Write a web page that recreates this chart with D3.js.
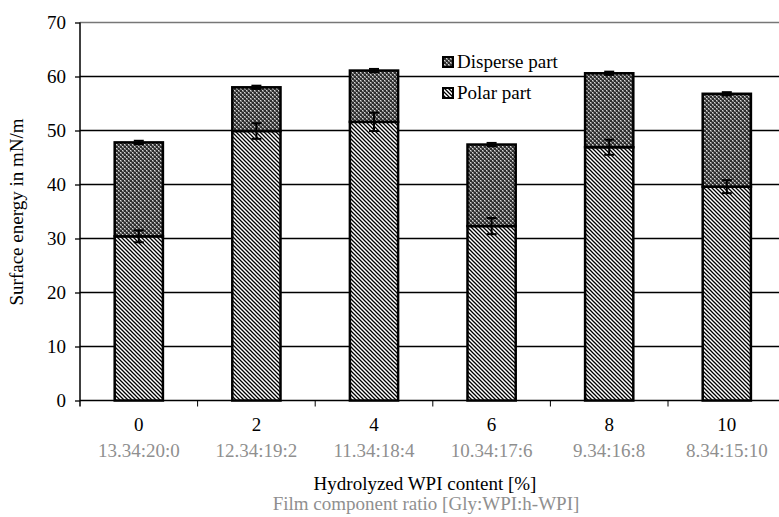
<!DOCTYPE html>
<html><head><meta charset="utf-8">
<script src="https://cdn.jsdelivr.net/npm/d3@7"></script>
<style>body{margin:0;background:#fff}svg{display:block}text{font-family:"Liberation Serif","Times New Roman",serif}</style>
</head><body><svg id="c" width="779" height="517"></svg>
<script>
const categories = ["0","2","4","6","8","10"];
const ratios = ["13.34:20:0","12.34:19:2","11.34:18:4","10.34:17:6","9.34:16:8","8.34:15:10"];
const polar = [30.4, 49.9, 51.6, 32.3, 46.9, 39.6];
const polarErr = [1.1, 1.45, 1.7, 1.5, 1.4, 1.2];
const total = [47.8, 58.0, 61.1, 47.4, 60.6, 56.8];
const totalErr = [0.3, 0.3, 0.3, 0.3, 0.3, 0.3];
const yTicks = [0,10,20,30,40,50,60,70];

(function(){
const svg = d3.select("#c");
const pLeft = 80, pRight = 80 + 6*117.6, pTop = 22.5, pBottom = 400.5;
const x = d3.scaleBand().domain(categories).range([pLeft,pRight]).paddingInner(0.59).paddingOuter(0.295);
const xb = d3.scaleBand().domain(categories).range([pLeft,pRight]);
const y = d3.scaleLinear().domain([0,70]).range([pBottom,pTop]);

const defs = svg.append("defs");
const pp = defs.append("pattern").attr("id","polar").attr("patternUnits","userSpaceOnUse").attr("width",4).attr("height",4);
pp.append("rect").attr("width",4).attr("height",4).attr("fill","#fff");
pp.append("path").attr("d","M-1,-1L5,5M3,-1L5,1M-1,3L1,5").attr("stroke","#000").attr("stroke-width",1.3);
const dp = defs.append("pattern").attr("id","disp").attr("patternUnits","userSpaceOnUse").attr("width",4).attr("height",4);
dp.append("rect").attr("width",4).attr("height",4).attr("fill","#2e2e2e");
dp.append("rect").attr("x",0).attr("y",0).attr("width",1.4).attr("height",1.4).attr("fill","#d8d8d8");
dp.append("rect").attr("x",2).attr("y",2).attr("width",1.4).attr("height",1.4).attr("fill","#d8d8d8");
dp.append("rect").attr("x",1).attr("y",1).attr("width",1).attr("height",1).attr("fill","#888");
dp.append("rect").attr("x",3).attr("y",3).attr("width",1).attr("height",1).attr("fill","#888");

// gridlines
svg.append("g").selectAll("line").data(yTicks.filter(d=>d>0)).join("line")
  .attr("x1",pLeft).attr("x2",779).attr("y1",d=>y(d)).attr("y2",d=>y(d))
  .attr("stroke",d=>d===70?"#777":"#000").attr("stroke-width",1.3);

// y axis
const yAxis = svg.append("g").attr("transform",`translate(${pLeft},0)`)
  .call(d3.axisLeft(y).tickValues(yTicks).tickSize(5).tickPadding(9));
yAxis.select(".domain").attr("stroke","#000").attr("stroke-width",1.5).attr("d",`M0,${pTop}V${pBottom+6}`);
yAxis.selectAll(".tick line").attr("stroke","#000").attr("stroke-width",1.3);
yAxis.selectAll(".tick text").attr("font-size",19).attr("fill","#000").attr("font-family","Liberation Serif");

// x axis baseline and ticks
svg.append("line").attr("x1",pLeft).attr("x2",779).attr("y1",pBottom).attr("y2",pBottom).attr("stroke","#000").attr("stroke-width",1.5);
svg.append("g").selectAll("line").data(categories.slice(1)).join("line")
  .attr("x1",d=>xb(d)).attr("x2",d=>xb(d)).attr("y1",pBottom).attr("y2",pBottom+6).attr("stroke","#000").attr("stroke-width",1);

// bars
const g = svg.append("g");
categories.forEach((c,i)=>{
  g.append("rect").attr("x",x(c)).attr("width",x.bandwidth()).attr("y",y(polar[i])).attr("height",y(0)-y(polar[i]))
    .attr("fill","url(#polar)").attr("stroke","#000").attr("stroke-width",2.5);
  g.append("rect").attr("x",x(c)).attr("width",x.bandwidth()).attr("y",y(total[i])).attr("height",y(polar[i])-y(total[i]))
    .attr("fill","url(#disp)").attr("stroke","#000").attr("stroke-width",2.5);
});
// error bars
function err(cx, v, e){
  const eg = g.append("g").attr("stroke","#000");
  eg.append("line").attr("x1",cx).attr("x2",cx).attr("y1",y(v-e)).attr("y2",y(v+e)).attr("stroke-width",2);
  [v-e,v+e].forEach(t=>eg.append("line").attr("x1",cx-5).attr("x2",cx+5).attr("y1",y(t)).attr("y2",y(t)).attr("stroke-width",2));
}
categories.forEach((c,i)=>{
  const cx = x(c)+x.bandwidth()/2;
  err(cx, polar[i], polarErr[i]);
  err(cx, total[i], totalErr[i]);
});

// category labels
svg.append("g").selectAll("text").data(categories).join("text")
  .attr("x",d=>xb(d)+xb.bandwidth()/2).attr("y",431).attr("text-anchor","middle").attr("font-size",19).attr("fill","#000").text(d=>d);
svg.append("g").selectAll("text").data(ratios).join("text")
  .attr("x",(d,i)=>xb(categories[i])+xb.bandwidth()/2).attr("y",457).attr("text-anchor","middle").attr("font-size",19).attr("fill","#8f8f8f").text(d=>d);

svg.append("text").attr("x",425).attr("y",490).attr("text-anchor","middle").attr("font-size",19).attr("fill","#000").text("Hydrolyzed WPI content [%]");
svg.append("text").attr("x",426).attr("y",510).attr("text-anchor","middle").attr("font-size",19).attr("fill","#8f8f8f").text("Film component ratio [Gly:WPI:h-WPI]");
svg.append("text").attr("transform","translate(23,212) rotate(-90)").attr("text-anchor","middle").attr("font-size",19).attr("fill","#000").text("Surface energy in mN/m");

// legend
const legend = [{label:"Disperse part",fill:"url(#disp)",y:62},{label:"Polar part",fill:"url(#polar)",y:93}];
const lg = svg.append("g");
legend.forEach(l=>{
  lg.append("rect").attr("x",443).attr("y",l.y-5).attr("width",10).attr("height",10).attr("fill",l.fill).attr("stroke","#000").attr("stroke-width",2);
  lg.append("text").attr("x",457).attr("y",l.y+6).attr("font-size",19).attr("fill","#000").text(l.label);
});
})();
</script></body></html>
